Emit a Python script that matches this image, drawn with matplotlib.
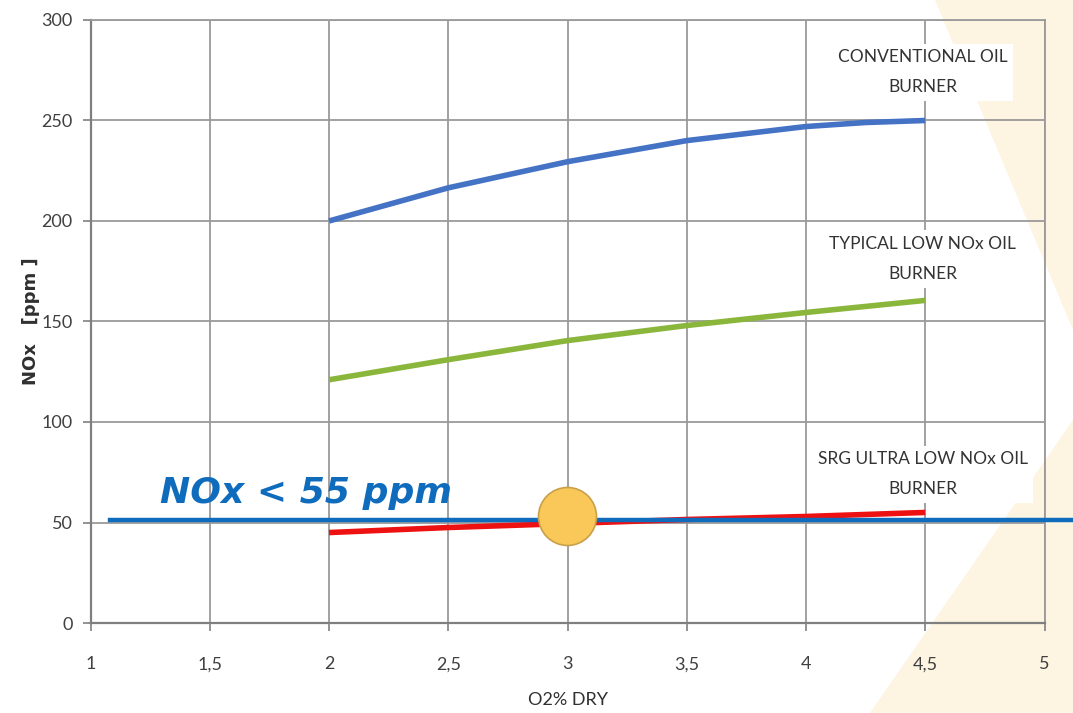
import numpy as np
import matplotlib.pyplot as plt
from matplotlib.patches import Polygon, Ellipse

# O2 % dry (x) and NOx ppm (y)
o2 = [2.0, 2.5, 3.0, 3.5, 4.0, 4.25, 4.5]
nox_conventional = [200, 216.5, 229.5, 240, 247, 249, 250]
nox_typical_low = [121, 131, 140.5, 148, 154.5, 157.5, 160.5]
nox_srg_ultra = [45, 47.5, 49.5, 51.5, 53, 54, 55]

x_ticks = [1, 1.5, 2, 2.5, 3, 3.5, 4, 4.5, 5]
x_tick_labels = ['1', '1,5', '2', '2,5', '3', '3,5', '4', '4,5', '5']
y_ticks = [0, 50, 100, 150, 200, 250, 300]

limit_value = 51
limit_text = 'NOx < 55 ppm'
highlight_point = (3.0, 53)

label_font = ['Lato', 'DejaVu Sans']

fig = plt.figure(figsize=(10.73, 7.13), dpi=100)
fig.patch.set_facecolor('white')

# cream background shapes in the slide corners
cream = '#fdf4e1'
fig.patches.append(Polygon([(935 / 1073, 1), (1, 1), (1, 1 - 330 / 713)], closed=True,
                           transform=fig.transFigure, facecolor=cream, edgecolor='none', zorder=0))
fig.patches.append(Polygon([(870 / 1073, 0), (1, 0), (1, 1 - 420 / 713)], closed=True,
                           transform=fig.transFigure, facecolor=cream, edgecolor='none', zorder=0))

ax = fig.add_axes([90.5 / 1073, 1 - 623 / 713, 954 / 1073, 603 / 713])
ax.set_zorder(2)
ax.set_facecolor('none')

ax.plot(o2, nox_conventional, color='#4472c4', lw=4, solid_capstyle='butt', zorder=3)
ax.plot(o2, nox_typical_low, color='#8ab63c', lw=4, solid_capstyle='butt', zorder=3)
ax.plot(o2, nox_srg_ultra, color='#ee1111', lw=4, solid_capstyle='butt', zorder=3)

ax.set_xlim(1, 5)
ax.set_ylim(0, 300)
ax.set_xticks(x_ticks)
ax.set_xticklabels(x_tick_labels)
ax.set_yticks(y_ticks)
ax.grid(True, color='#9a9a9a', lw=1.3)
ax.set_axisbelow(True)
for side in ['top', 'right']:
    ax.spines[side].set_color('#9a9a9a')
    ax.spines[side].set_linewidth(1.3)
for side in ['left', 'bottom']:
    ax.spines[side].set_color('#7f7f7f')
    ax.spines[side].set_linewidth(1.6)
ax.tick_params(axis='both', length=6, width=1.3, color='#8a8a8a', labelcolor='#404040',
               labelsize=13, pad=7)
ax.tick_params(axis='x', pad=18)
for lbl in ax.get_xticklabels() + ax.get_yticklabels():
    lbl.set_family(label_font)

ax.set_xlabel('O2% DRY', family=label_font, fontsize=13, color='#303030', labelpad=14)
ax.set_ylabel('NOx   [ppm ]', fontsize=13, fontweight='bold', color='#303030', labelpad=1)

box = dict(facecolor='white', edgecolor='none', pad=4)
ax.text(4.49, 274, 'CONVENTIONAL OIL\nBURNER', ha='center', va='center', family=label_font,
        fontsize=12.5, color='#333333', linespacing=2.1, bbox=box, zorder=4)
ax.text(4.49, 181, 'TYPICAL LOW NOx OIL\nBURNER', ha='center', va='center', family=label_font,
        fontsize=12.5, color='#333333', linespacing=2.1, bbox=box, zorder=4)
ax.text(4.49, 74, 'SRG ULTRA LOW NOx OIL\nBURNER', ha='center', va='center', family=label_font,
        fontsize=12.5, color='#333333', linespacing=2.1, bbox=box, zorder=4)

# limit line and callout
ax.plot([1.082, 5.12], [limit_value, limit_value], color='#0f6cbd', lw=3.2,
        clip_on=False, zorder=5)
ax.text(1.29, limit_value + 5, limit_text, color='#0f6cbd', fontsize=26,
        fontweight='bold', fontstyle='italic', ha='left', va='bottom', zorder=6)

ax.add_patch(Ellipse(highlight_point, width=58 / 238.5, height=58 / 2.01,
                     facecolor='#f9c859', edgecolor='#c9a04a', lw=1.2, zorder=6))

fig.savefig('out.png', dpi=100)
